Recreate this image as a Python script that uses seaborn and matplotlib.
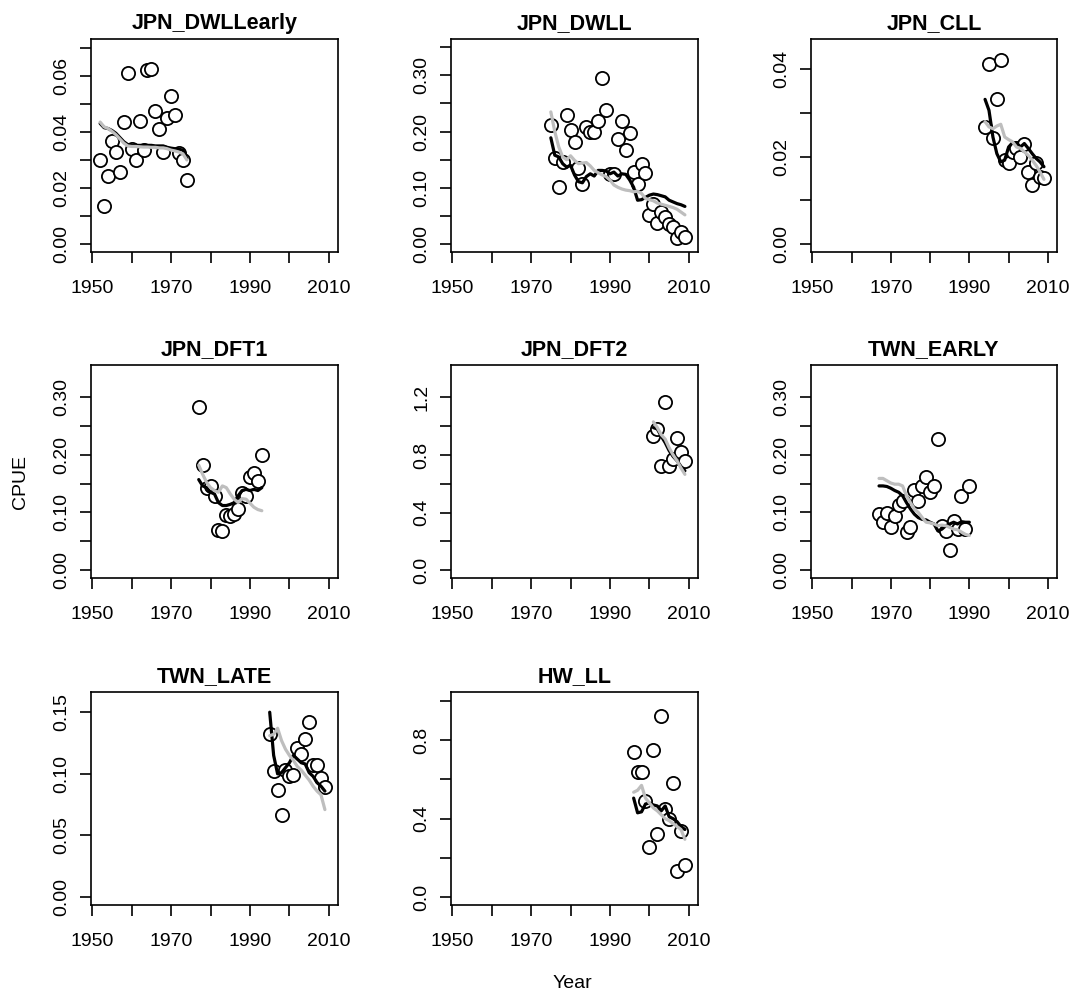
import matplotlib
matplotlib.use("Agg")
import matplotlib.pyplot as plt
import seaborn as sns

# --- values ---
# each panel: observed CPUE (circles), fit A (black line), fit B (grey line)

dwllearly_year = list(range(1952, 1975))
dwllearly_obs = [0.0301, 0.0135, 0.0242, 0.0369, 0.0329, 0.0257, 0.0434, 0.0611,
                 0.0338, 0.0301, 0.0440, 0.0335, 0.0619, 0.0625, 0.0473, 0.0410,
                 0.0329, 0.0448, 0.0527, 0.0461, 0.0325, 0.0301, 0.0230]
dwllearly_fit_a = [0.0430, 0.0415, 0.0412, 0.0405, 0.0395, 0.0380, 0.0365, 0.0355,
                   0.0352, 0.0352, 0.0352, 0.0352, 0.0352, 0.0352, 0.0350, 0.0350,
                   0.0350, 0.0345, 0.0342, 0.0340, 0.0338, 0.0335, 0.0305]
dwllearly_fit_b = [0.0435, 0.0418, 0.0412, 0.0402, 0.0390, 0.0375, 0.0360, 0.0350,
                   0.0348, 0.0348, 0.0347, 0.0346, 0.0346, 0.0345, 0.0345, 0.0343,
                   0.0343, 0.0340, 0.0335, 0.0332, 0.0328, 0.0322, 0.0300]

dwll_year = list(range(1975, 2010))
dwll_obs = [0.211, 0.153, 0.101, 0.146, 0.230, 0.202, 0.181, 0.136, 0.106, 0.208,
            0.200, 0.200, 0.219, 0.296, 0.238, 0.124, 0.124, 0.186, 0.219, 0.167,
            0.198, 0.128, 0.107, 0.142, 0.126, 0.051, 0.071, 0.038, 0.057, 0.049,
            0.036, 0.030, 0.010, 0.021, 0.012]
dwll_fit_a = [0.189, 0.158, 0.155, 0.143, 0.137, 0.140, 0.123, 0.111, 0.109, 0.120,
              0.125, 0.121, 0.131, 0.131, 0.130, 0.125, 0.128, 0.121, 0.125, 0.124,
              0.114, 0.101, 0.078, 0.079, 0.083, 0.087, 0.089, 0.088, 0.086, 0.084,
              0.078, 0.075, 0.072, 0.070, 0.067]
dwll_fit_b = [0.235, 0.200, 0.173, 0.155, 0.150, 0.157, 0.149, 0.143, 0.144, 0.145,
              0.139, 0.131, 0.127, 0.123, 0.120, 0.114, 0.105, 0.101, 0.098, 0.096,
              0.095, 0.093, 0.094, 0.090, 0.081, 0.079, 0.077, 0.073, 0.071, 0.069,
              0.067, 0.065, 0.062, 0.057, 0.052]

cll_year = list(range(1994, 2010))
cll_obs = [0.0267, 0.0411, 0.0243, 0.0331, 0.0421, 0.0192, 0.0186, 0.0211,
           0.0219, 0.0200, 0.0229, 0.0165, 0.0136, 0.0185, 0.0154, 0.0152]
cll_fit_a = [0.0331, 0.0306, 0.0245, 0.0207, 0.0188, 0.0192, 0.0222, 0.0232,
             0.0232, 0.0222, 0.0230, 0.0219, 0.0207, 0.0196, 0.0188, 0.0177]
cll_fit_b = [0.0280, 0.0268, 0.0264, 0.0270, 0.0274, 0.0245, 0.0239, 0.0234,
             0.0222, 0.0219, 0.0211, 0.0203, 0.0192, 0.0180, 0.0165, 0.0148]

dft1_year = list(range(1977, 1994))
dft1_obs = [0.282, 0.182, 0.143, 0.146, 0.129, 0.070, 0.067, 0.095, 0.094,
            0.097, 0.106, 0.133, 0.129, 0.161, 0.169, 0.155, 0.200]
dft1_fit_a = [0.157, 0.146, 0.143, 0.135, 0.132, 0.117, 0.112, 0.112, 0.114,
              0.117, 0.129, 0.138, 0.140, 0.138, 0.140, 0.138, 0.143]
dft1_fit_b = [0.182, 0.166, 0.152, 0.143, 0.138, 0.135, 0.146, 0.143, 0.132,
              0.123, 0.117, 0.124, 0.123, 0.116, 0.109, 0.105, 0.103]

dft2_year = list(range(2001, 2010))
dft2_obs = [0.93, 0.98, 0.72, 1.17, 0.72, 0.77, 0.92, 0.82, 0.76]
dft2_fit_a = [0.99, 0.98, 0.93, 0.885, 0.83, 0.79, 0.76, 0.72, 0.69]
dft2_fit_b = [1.03, 0.99, 0.94, 0.91, 0.85, 0.80, 0.76, 0.71, 0.665]

twnearly_year = list(range(1967, 1991))
twnearly_obs = [0.097, 0.083, 0.099, 0.074, 0.094, 0.113, 0.120, 0.066, 0.075,
                0.139, 0.120, 0.145, 0.162, 0.136, 0.145, 0.227, 0.077, 0.068,
                0.035, 0.086, 0.072, 0.129, 0.072, 0.145]
twnearly_fit_a = [0.146, 0.146, 0.145, 0.142, 0.138, 0.135, 0.129, 0.117, 0.106,
                  0.097, 0.091, 0.088, 0.087, 0.083, 0.080, 0.068, 0.071, 0.077,
                  0.080, 0.083, 0.080, 0.084, 0.083, 0.083]
twnearly_fit_b = [0.159, 0.159, 0.155, 0.151, 0.149, 0.149, 0.146, 0.129, 0.117,
                  0.106, 0.100, 0.091, 0.083, 0.082, 0.080, 0.077, 0.078, 0.077,
                  0.074, 0.071, 0.070, 0.066, 0.062, 0.060]

twnlate_year = list(range(1995, 2010))
twnlate_obs = [0.132, 0.102, 0.087, 0.067, 0.103, 0.098, 0.099, 0.121, 0.116,
               0.128, 0.142, 0.107, 0.107, 0.097, 0.089]
twnlate_fit_a = [0.150, 0.115, 0.100, 0.101, 0.105, 0.109, 0.115, 0.112, 0.109,
                 0.108, 0.101, 0.098, 0.093, 0.090, 0.086]
twnlate_fit_b = [0.131, 0.132, 0.137, 0.127, 0.120, 0.115, 0.111, 0.106, 0.103,
                 0.099, 0.095, 0.090, 0.086, 0.083, 0.071]

hwll_year = list(range(1996, 2010))
hwll_obs = [0.738, 0.636, 0.636, 0.490, 0.257, 0.751, 0.321, 0.925, 0.447,
            0.397, 0.582, 0.132, 0.338, 0.165]
hwll_fit_a = [0.505, 0.430, 0.435, 0.475, 0.480, 0.470, 0.465, 0.440, 0.465,
              0.410, 0.400, 0.385, 0.360, 0.345]
hwll_fit_b = [0.535, 0.545, 0.570, 0.505, 0.480, 0.455, 0.440, 0.420, 0.400,
              0.390, 0.375, 0.360, 0.345, 0.295]

panel_titles = ["JPN_DWLLearly", "JPN_DWLL", "JPN_CLL", "JPN_DFT1",
                "JPN_DFT2", "TWN_EARLY", "TWN_LATE", "HW_LL"]

# y axis: upper limit, tick positions, tick labels ('' = tick without label)
ytop = [0.0703, 0.3506, 0.0451, 0.342, 1.37, 0.342, 0.160, 1.006]
yticks = [
    [0.00, 0.01, 0.02, 0.03, 0.04, 0.05, 0.06, 0.07],
    [0.00, 0.05, 0.10, 0.15, 0.20, 0.25, 0.30, 0.35],
    [0.00, 0.01, 0.02, 0.03, 0.04],
    [0.00, 0.05, 0.10, 0.15, 0.20, 0.25, 0.30],
    [0.0, 0.2, 0.4, 0.6, 0.8, 1.0, 1.2],
    [0.00, 0.05, 0.10, 0.15, 0.20, 0.25, 0.30],
    [0.00, 0.05, 0.10, 0.15],
    [0.0, 0.2, 0.4, 0.6, 0.8, 1.0],
]
ytick_labels = [
    ["0.00", "", "0.02", "", "0.04", "", "0.06", ""],
    ["0.00", "", "0.10", "", "0.20", "", "0.30", ""],
    ["0.00", "", "0.02", "", "0.04"],
    ["0.00", "", "0.10", "", "0.20", "", "0.30"],
    ["0.0", "", "0.4", "", "0.8", "", "1.2"],
    ["0.00", "", "0.10", "", "0.20", "", "0.30"],
    ["0.00", "0.05", "0.10", "0.15"],
    ["0.0", "", "0.4", "", "0.8", ""],
]
xticks = [1950, 1960, 1970, 1980, 1990, 2000, 2010]
xtick_labels = ["1950", "", "1970", "", "1990", "", "2010"]

panel_data = [
    (dwllearly_year, dwllearly_obs, dwllearly_fit_a, dwllearly_fit_b),
    (dwll_year, dwll_obs, dwll_fit_a, dwll_fit_b),
    (cll_year, cll_obs, cll_fit_a, cll_fit_b),
    (dft1_year, dft1_obs, dft1_fit_a, dft1_fit_b),
    (dft2_year, dft2_obs, dft2_fit_a, dft2_fit_b),
    (twnearly_year, twnearly_obs, twnearly_fit_a, twnearly_fit_b),
    (twnlate_year, twnlate_obs, twnlate_fit_a, twnlate_fit_b),
    (hwll_year, hwll_obs, hwll_fit_a, hwll_fit_b),
]

# --- style ---
sns.set_style("ticks")
plt.rcParams["font.family"] = ["Liberation Sans", "DejaVu Sans"]
plt.rcParams["axes.linewidth"] = 1.2
plt.rcParams["text.color"] = "black"
plt.rcParams["axes.labelcolor"] = "black"

W, H = 1075, 999
fig = plt.figure(figsize=(W / 100, H / 100), dpi=100)

# plot boxes in pixels (left, right) / (top, bottom)
cols = [(91, 338), (451, 698), (811, 1057)]
rows = [(39, 252), (365, 578), (692, 905)]


def r_range(lo, hi):
    pad = 0.04 * (hi - lo)
    return lo - pad, hi + pad


for i, (title, (yr, obs, fa, fb)) in enumerate(zip(panel_titles, panel_data)):
    r, c = divmod(i, 3)
    x0, x1 = cols[c]
    y0, y1 = rows[r]
    ax = fig.add_axes([x0 / W, 1 - y1 / H, (x1 - x0) / W, (y1 - y0) / H])

    sns.scatterplot(x=yr, y=obs, ax=ax, s=90, color="white", edgecolor="black",
                    linewidth=1.3, zorder=2)
    sns.lineplot(x=yr, y=fa, ax=ax, color="black", lw=2.3, zorder=3)
    sns.lineplot(x=yr, y=fb, ax=ax, color="#BEBEBE", lw=2.3, zorder=4)

    ax.set_xlim(*r_range(1952, 2010))
    ax.set_ylim(*r_range(0, ytop[i]))
    ax.set_xticks(xticks)
    ax.set_xticklabels(xtick_labels)
    ax.set_yticks(yticks[i])
    ax.set_yticklabels(ytick_labels[i], rotation=90, va="center")
    ax.tick_params(direction="out", length=8, width=1.2, labelsize=14,
                   colors="black")
    ax.tick_params(axis="x", pad=12)
    ax.tick_params(axis="y", pad=7)
    for s in ax.spines.values():
        s.set_visible(True)
        s.set_color("black")
    ax.set_xlabel("")
    ax.set_ylabel("")
    ax.set_title(title, fontsize=15.5, fontweight="bold", pad=7.5,
                 color="black")

fig.text(20 / W, 1 - 482 / H, "CPUE", rotation=90, ha="center", va="center",
         fontsize=14)
fig.text(572 / W, 1 - 983 / H, "Year", ha="center", va="center", fontsize=14)

fig.savefig("out.png", dpi=100)
